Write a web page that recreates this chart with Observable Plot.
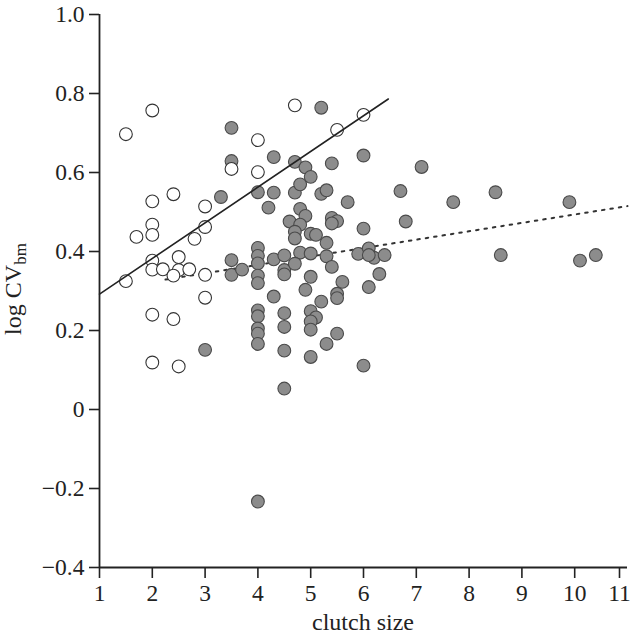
<!DOCTYPE html>
<html>
<head>
<meta charset="utf-8">
<script src="https://cdn.jsdelivr.net/npm/d3@7"></script>
<script src="https://cdn.jsdelivr.net/npm/@observablehq/plot@0.6"></script>
<style>
  html, body { margin: 0; padding: 0; background: #fff; }
  #chart svg { display: block; }
</style>
</head>
<body>
<div id="chart"></div>
<script>
// Filled circles (clutch size, log CV_bm)
const filledX = [3.5,3.5,4.3,4.7,4.9,5.0,5.4,6.0,7.1,5.2,
  3.3,4.0,4.3,4.7,4.8,5.2,5.3,5.7,6.7,6.8,
  4.2,4.8,4.9,4.6,4.8,4.7,4.7,5.0,5.1,5.4,
  5.5,5.4,6.0,5.3,5.3,4.0,4.0,4.0,4.0,4.0,
  3.5,3.5,3.7,4.3,4.5,4.5,4.5,4.8,4.7,5.0,
  5.4,5.9,6.1,6.2,6.4,6.1,6.3,6.1,5.0,4.9,
  5.6,5.5,5.5,5.2,4.3,4.0,4.0,4.0,4.0,4.0,
  4.5,4.5,5.0,5.1,5.0,5.0,5.5,5.3,4.5,5.0,
  6.0,4.5,3.0,4.0,8.5,7.7,9.9,8.6,10.1,10.4];
const filledY = [0.713,0.629,0.639,0.627,0.613,0.589,0.623,0.643,0.614,0.764,
  0.538,0.550,0.549,0.549,0.570,0.546,0.555,0.525,0.553,0.476,
  0.511,0.508,0.490,0.476,0.468,0.450,0.433,0.445,0.442,0.485,
  0.477,0.471,0.458,0.422,0.388,0.409,0.389,0.370,0.339,0.320,
  0.378,0.341,0.354,0.380,0.390,0.353,0.342,0.397,0.369,0.395,
  0.361,0.394,0.408,0.384,0.391,0.391,0.343,0.310,0.336,0.303,
  0.323,0.293,0.282,0.273,0.286,0.251,0.236,0.205,0.192,0.166,
  0.244,0.209,0.249,0.233,0.223,0.202,0.192,0.166,0.149,0.133,
  0.111,0.053,0.151,-0.233,0.550,0.525,0.525,0.391,0.377,0.391];

// Open circles
const openX = [1.5,2.0,4.7,6.0,5.5,4.0,3.5,4.0,2.0,2.4,
  3.0,2.0,2.0,1.7,3.0,2.8,2.5,2.0,2.0,2.2,
  2.5,2.7,2.4,3.0,1.5,3.0,2.0,2.4,2.0,2.5];
const openY = [0.697,0.757,0.770,0.746,0.708,0.682,0.609,0.601,0.527,0.545,
  0.514,0.468,0.442,0.437,0.462,0.432,0.386,0.377,0.354,0.355,
  0.353,0.355,0.339,0.341,0.325,0.283,0.240,0.229,0.119,0.109];

// Fitted lines (end points)
const solidLineX = [1.0, 6.47];
const solidLineY = [0.292, 0.786];
const dottedLineX = [2.25, 11.0];
const dottedLineY = [0.329, 0.515];

const xTicks = [1,2,3,4,5,6,7,8,9,10,11];
const yTicks = [-0.4,-0.2,0,0.2,0.4,0.6,0.8,1.0];

const filled = filledX.map((x, i) => ({x, y: filledY[i]}));
const open = openX.map((x, i) => ({x, y: openY[i]}));
const solidLine = solidLineX.map((x, i) => ({x, y: solidLineY[i]}));
const dottedLine = dottedLineX.map((x, i) => ({x, y: dottedLineY[i]}));

const fmtY = d => d === 0 ? "0" : (d < 0 ? "\u2212" : "") + Math.abs(d).toFixed(1);

const font = "'Liberation Serif', 'DejaVu Serif', serif";
const fs = 23.5;

const chart = Plot.plot({
  width: 632,
  height: 637,
  marginLeft: 99,
  marginRight: 5,
  marginTop: 14,
  marginBottom: 70,
  style: {fontFamily: font, fontSize: fs + "px", color: "#222", background: "#fff"},
  x: {domain: [1, 11]},
  y: {domain: [-0.4, 1.0]},
  marks: [
    Plot.line(dottedLine, {x: "x", y: "y", stroke: "#333", strokeWidth: 2, strokeDasharray: "2.5,6"}),
    Plot.dot(filled, {x: "x", y: "y", r: 6.4, fill: "#8c8c8c", stroke: "#4a4a4a", strokeWidth: 1.1}),
    Plot.dot(open, {x: "x", y: "y", r: 6.4, fill: "#fff", stroke: "#333", strokeWidth: 1.1}),
    Plot.line(solidLine, {x: "x", y: "y", stroke: "#222", strokeWidth: 1.6}),
    Plot.axisX({ticks: xTicks.slice(0, -1), tickFormat: d => String(d), tickSize: 11, tickPadding: 6, label: null, stroke: "#222", strokeWidth: 1.6, fontSize: fs}),
    Plot.axisX({ticks: xTicks.slice(-1), tickFormat: d => String(d), tickSize: 11, tickPadding: 6, label: null, stroke: "#222", strokeWidth: 1.6, fontSize: fs, dx: -8}),
    Plot.axisY({ticks: yTicks, tickFormat: fmtY, tickSize: 10, tickPadding: 5, label: null, stroke: "#222", strokeWidth: 1.6, fontSize: fs}),
    Plot.ruleX([1], {stroke: "#222", strokeWidth: 1.8}),
    Plot.ruleY([-0.4], {stroke: "#222", strokeWidth: 1.8})
  ]
});

const svg = d3.select(chart);
svg.selectAll('g[aria-label$="tick label"]')
  .attr("font-size", fs)
  .style("font-size", fs + "px")
  .style("font-family", font)
  .style("font-variant", "normal");
svg.selectAll('g[aria-label$="tick label"] text')
  .style("font-size", fs + "px");

svg.append("text")
  .attr("x", 363).attr("y", 630)
  .attr("text-anchor", "middle")
  .attr("font-family", font).attr("font-size", 24).attr("fill", "#222")
  .text("clutch size");

const yl = svg.append("text")
  .attr("transform", "translate(21,289) rotate(-90)")
  .attr("text-anchor", "middle")
  .attr("font-family", font).attr("font-size", 24).attr("fill", "#222");
yl.append("tspan").text("log CV");
yl.append("tspan").attr("font-size", 17).attr("dy", 5).text("bm");

document.getElementById("chart").appendChild(chart);
</script>
</body>
</html>
